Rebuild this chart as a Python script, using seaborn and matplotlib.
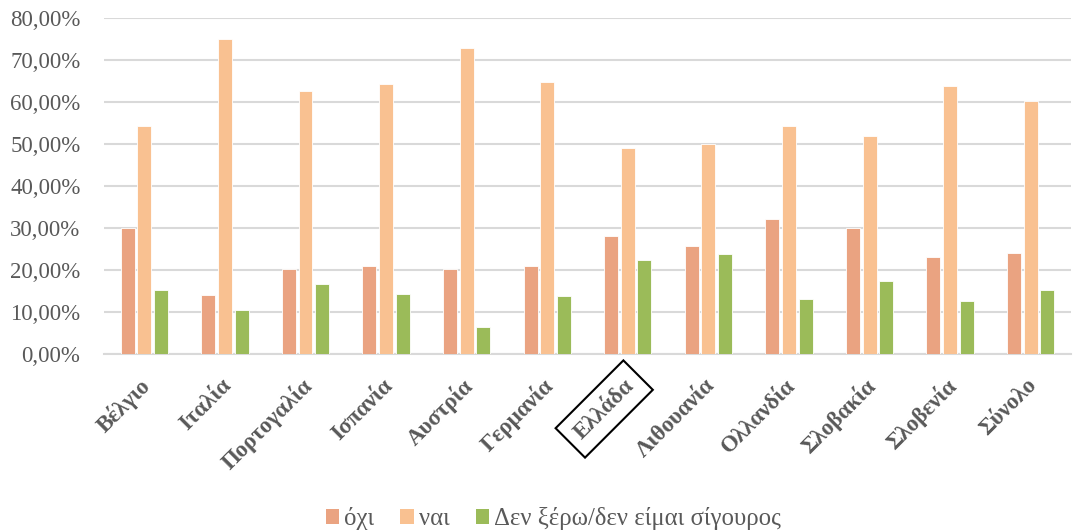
import numpy as np
import pandas as pd
import matplotlib
matplotlib.use("Agg")
import matplotlib.pyplot as plt
from matplotlib.ticker import FuncFormatter
from matplotlib.patches import Patch
from matplotlib.transforms import ScaledTranslation
import seaborn as sns

countries = ["Βέλγιο", "Ιταλία", "Πορτογαλία", "Ισπανία", "Αυστρία", "Γερμανία",
             "Ελλάδα", "Λιθουανία", "Ολλανδία", "Σλοβακία", "Σλοβενία", "Σύνολο"]
series_names = ["όχι", "ναι", "Δεν ξέρω/δεν είμαι σίγουρος"]
ochi = [30.0, 14.1, 20.3, 20.9, 20.3, 20.9, 28.2, 25.7, 32.2, 29.9, 23.2, 24.1]
nai = [54.4, 75.1, 62.7, 64.3, 72.8, 64.7, 49.0, 50.0, 54.2, 52.0, 63.7, 60.3]
den_xero = [15.3, 10.4, 16.7, 14.4, 6.5, 13.9, 22.5, 23.8, 13.2, 17.5, 12.7, 15.3]
yticks = [0, 10, 20, 30, 40, 50, 60, 70, 80]
colors = ["#EAA381", "#F9C191", "#9BBB59"]
highlight = "Ελλάδα"

df = pd.DataFrame({
    "country": countries * 3,
    "series": np.repeat(series_names, len(countries)),
    "value": np.concatenate([ochi, nai, den_xero]) / 100.0,
})

sns.set_theme(style="white")
plt.rcParams["font.family"] = ["Liberation Serif", "DejaVu Serif"]

fig = plt.figure(figsize=(10.85, 5.31), dpi=100)
ax = fig.add_axes([0.0959, 0.3333, 0.8912, 0.6328])

sns.barplot(data=df, x="country", y="value", hue="series", order=countries,
            hue_order=series_names, palette=colors, width=0.62, gap=0.16,
            saturation=1, edgecolor="white", linewidth=0.6, legend=False, ax=ax,
            zorder=3)

ax.set_ylim(0, 0.80)
ax.set_xlim(-0.5, len(countries) - 0.5)
ax.set_yticks(np.array(yticks) / 100.0)
ax.yaxis.set_major_formatter(FuncFormatter(lambda v, p: f"{v*100:.2f}%".replace(".", ",")))
ax.grid(axis="y", color="#D9D9D9", linewidth=1.5, zorder=0)
ax.grid(axis="x", visible=False)
for side in ["top", "right", "left"]:
    ax.spines[side].set_visible(False)
ax.spines["bottom"].set_color("#D9D9D9")
ax.spines["bottom"].set_linewidth(1.5)
ax.set_xlabel("")
ax.set_ylabel("")
ax.tick_params(axis="y", length=0, pad=17, labelsize=16.5, labelcolor="#595959")
ax.tick_params(axis="x", length=0, pad=19, labelsize=16.5, labelcolor="#595959")

shift = ScaledTranslation(3 / 100, -2 / 100, fig.dpi_scale_trans)
for lab in ax.get_xticklabels():
    lab.set_rotation(45)
    lab.set_rotation_mode("anchor")
    lab.set_ha("right")
    lab.set_va("center")
    lab.set_fontweight("bold")
    lab.set_transform(lab.get_transform() + shift)
    if lab.get_text() == highlight:
        lab.set_bbox(dict(boxstyle="square,pad=0.45", fc="none", ec="black", lw=1.5))

handles = [Patch(facecolor=c, edgecolor="none") for c in colors]
fig.legend(handles, series_names, loc="lower center", bbox_to_anchor=(0.51, -0.04),
           ncol=3, frameon=False, fontsize=17.8, labelcolor="#595959",
           handlelength=0.55, handleheight=0.55, handletextpad=0.2, columnspacing=1.05)

fig.savefig("out.png", dpi=100)
